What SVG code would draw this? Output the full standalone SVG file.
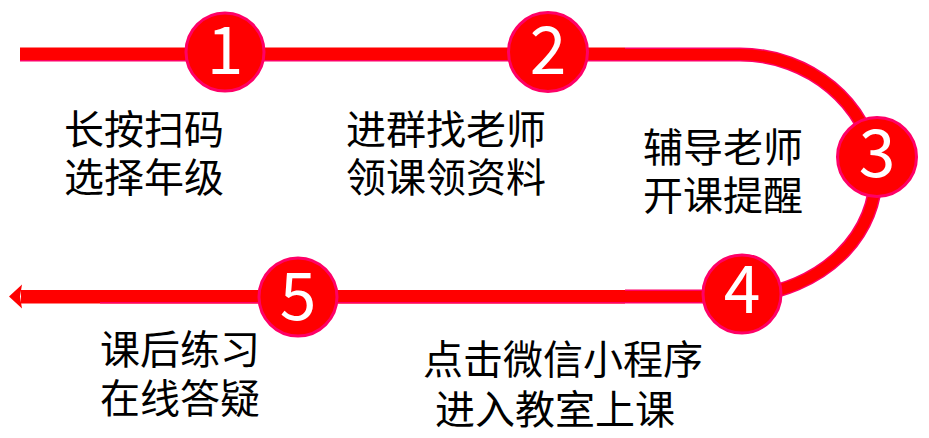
<svg xmlns="http://www.w3.org/2000/svg" width="929" height="438" viewBox="0 0 929 438">
<style>
.lbl{font-family:"Noto Sans CJK SC","Noto Sans",sans-serif;font-size:40px;fill:#000;}
.num{font-family:"Noto Sans CJK SC","Noto Sans",sans-serif;font-size:66px;fill:#fff;text-anchor:middle;}
.dot{fill:#ff0000;stroke:#ff0066;stroke-width:3;}
.edge{fill:none;stroke:#ff0066;stroke-width:14;}
.core{fill:none;stroke:#ff0000;stroke-width:11;}
</style>
<rect width="929" height="438" fill="#fff"/>
<g id="connectors">
  <path class="edge" d="M625,54.5 L740,54.5 C810,54.5 868,105 875,165 C882,235 820,292 742,296.5 L625,296.5"/>
  <path class="core" d="M624,54.5 L740,54.5 C810,54.5 868,105 875,165 C882,235 820,292 742,296.5 L624,296.5"/>
  <rect x="20" y="47.5" width="605" height="13.5" fill="#ff0000"/>
  <rect x="20" y="60" width="605" height="1.5" fill="#ff0066"/>
  <rect x="21" y="290" width="604" height="13.5" fill="#ff0000"/>
  <rect x="100" y="302" width="525" height="1.5" fill="#ff0066"/>
  <polygon points="9,296.5 22,284.5 20,296.5 22,308.5" fill="#ff0000"/>
</g>
<g id="node1">
  <circle class="dot" cx="225" cy="52" r="39"/>
  <text class="num" x="225" y="74">1</text>
  <text class="lbl" x="64" y="144">长按扫码<tspan x="64" dy="48">选择年级</tspan></text>
</g>
<g id="node2">
  <circle class="dot" cx="548" cy="52" r="39.5"/>
  <text class="num" x="548" y="74">2</text>
  <text class="lbl" x="346" y="144">进群找老师<tspan x="346" dy="48">领课领资料</tspan></text>
</g>
<g id="node3">
  <circle class="dot" cx="877" cy="157" r="39.5"/>
  <text class="num" x="877" y="177">3</text>
  <text class="lbl" x="643" y="162">辅导老师<tspan x="643" dy="48">开课提醒</tspan></text>
</g>
<g id="node4">
  <circle class="dot" cx="742" cy="294" r="39"/>
  <text class="num" x="742" y="313">4</text>
  <text class="lbl" x="423" y="374">点击微信小程序<tspan x="435" dy="50">进入教室上课</tspan></text>
</g>
<g id="node5">
  <circle class="dot" cx="298" cy="297" r="39"/>
  <text class="num" x="298" y="320">5</text>
  <text class="lbl" x="100" y="364">课后练习<tspan x="100" dy="49">在线答疑</tspan></text>
</g>
</svg>
